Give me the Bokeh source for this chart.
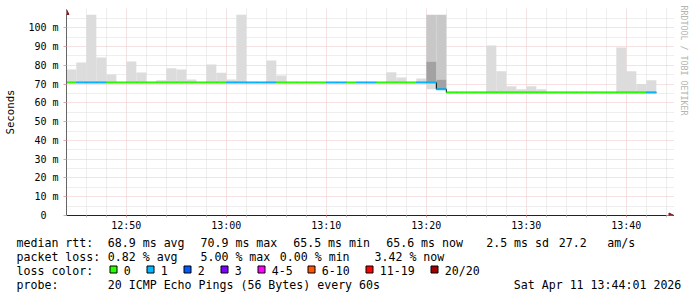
import math
from bokeh.plotting import figure
from bokeh.layouts import column
from bokeh.models import FixedTicker, Arrow, NormalHead, ColumnDataSource, Range1d, Title
from bokeh.core.properties import value
from bokeh.embed import file_html
from bokeh.resources import INLINE

# ---------------- data ----------------
# one bin per minute, start minute counted from 12:00 (12:44 ... 13:42)
minutes = list(range(44, 103))

median_ms = [70.9, 70.9, 70.9, 70.9, 70.9, 70.9, 70.9, 70.9, 70.9, 70.9,
             70.9, 70.9, 70.9, 70.9, 70.9, 70.9, 70.9, 70.9, 70.9, 70.9,
             70.9, 70.9, 70.9, 70.9, 70.9, 70.9, 70.9, 70.9, 70.9, 70.9,
             70.9, 70.9, 70.9, 70.9, 70.9, 70.9, 70.9, 67.3, 65.6, 65.6,
             65.6, 65.6, 65.6, 65.6, 65.6, 65.6, 65.6, 65.6, 65.6, 65.6,
             65.6, 65.6, 65.6, 65.6, 65.6, 65.6, 65.6, 65.6, 65.6]

lost_pings = [0, 1, 1, 1, 0, 0, 0, 0, 0, 0,
              0, 0, 0, 0, 0, 0, 1, 1, 1, 1,
              1, 0, 0, 0, 0, 0, 1, 1, 0, 1,
              1, 0, 0, 0, 0, 1, 1, 1, 0, 0,
              0, 0, 0, 0, 0, 0, 0, 0, 0, 0,
              0, 0, 0, 0, 0, 0, 0, 0, 1]

N = None
smoke_lo = [70.9, 70.9, 70.9, 70.9, 70.9, N, 70.9, 70.9, N, 70.9,
            70.9, 70.9, 70.9, N, 70.9, 70.9, 70.9, 70.9, N, N,
            70.9, 70.9, N, N, N, N, N, N, N, N,
            N, N, 70.9, 70.9, N, 70.9, 67.3, N, N, N,
            N, N, 65.6, 65.6, 65.6, 65.6, 65.6, 65.6, N, N,
            N, N, N, N, N, 65.6, 65.6, 65.6, 65.6]
smoke_hi = [77.8, 81.5, 107.0, 84.2, 75.1, N, 82.1, 76.2, N, 72.1,
            78.4, 77.8, 72.5, N, 80.4, 76.1, 72.5, 107.0, N, N,
            82.6, 74.6, N, N, N, N, N, N, N, N,
            N, N, 76.3, 73.5, N, 73.0, 70.9, N, N, N,
            N, N, 90.6, 76.8, 68.9, 67.3, 68.9, 67.3, N, N,
            N, N, N, N, N, 89.5, 76.8, 70.1, 72.0]

heavy_minutes = [80, 81]
heavy_inner_lo = [70.9, 67.3]
heavy_inner_hi = [82.1, 72.5]
heavy_outer_hi = [107.0, 107.0]

x_ticks = [50, 60, 70, 80, 90, 100]
x_tick_labels = ["12:50", "13:00", "13:10", "13:20", "13:30", "13:40"]
x_minor = [46, 48, 52, 54, 56, 58, 62, 64, 66, 68, 72, 74, 76, 78,
           82, 84, 86, 88, 92, 94, 96, 98, 102, 104]
y_ticks = [0, 10, 20, 30, 40, 50, 60, 70, 80, 90, 100]
y_tick_labels = ["0\u00a0\u00a0", "10 m", "20 m", "30 m", "40 m", "50 m",
                 "60 m", "70 m", "80 m", "90 m", "100 m"]
y_minor = [5, 15, 25, 35, 45, 55, 65, 75, 85, 95, 105]

loss_names = ["0", "1", "2", "3", "4-5", "6-10", "11-19", "20/20"]
loss_colors = ["#26ff00", "#00b8ff", "#0059ff", "#7e00ff", "#ff00ff",
               "#ff5500", "#ff0000", "#a10000"]

stats_line1 = ["median rtt:", "68.9 ms avg", "70.9 ms max", "65.5 ms min",
               "65.6 ms now", "2.5 ms sd", "27.2", "am/s"]
stats_line2 = ["packet loss:", "0.82 % avg", "5.00 % max", "0.00 % min", "3.42 % now"]
stats_line3 = ["loss color:"]
stats_line4 = ["probe:", "20 ICMP Echo Pings (56 Bytes) every 60s",
               "Sat Apr 11 13:44:01 2026"]
watermark = "RRDTOOL / TOBI OETIKER"

# ---------------- layout ----------------
W = 697
TOP_H = 237
FL, FR, FT, FB = 66, 674, 8, 215          # chart frame edges (px)
PX_PER_MIN = 10.0
PX_PER_MS = 201 / 107.1
X_START = 44 + 1 / 60                      # 12:44:01
X_END = 104 + 1 / 60                       # 13:44:01
Y_TOP = 107.1
FONT = "DejaVu Sans Mono"
MAJOR_GRID = "#ecc4c4"
MINOR_GRID = "#dcdcdc"
TEXT_SHIFT = 3.0                           # compensates text box baseline offset

p = figure(width=W, height=TOP_H,
           x_range=Range1d(X_START, X_START + (FR - FL) / PX_PER_MIN),
           y_range=Range1d(0, (FB - FT) / PX_PER_MS),
           output_backend="svg", toolbar_location=None,
           min_border_left=FL, min_border_right=W - FR,
           min_border_top=FT, min_border_bottom=TOP_H - FB)
p.frame_align = False
p.outline_line_color = None
p.background_fill_color = "white"
p.border_fill_color = "white"

xt = FixedTicker(ticks=x_ticks, minor_ticks=x_minor)
yt = FixedTicker(ticks=y_ticks, minor_ticks=y_minor)
p.xaxis.ticker = xt
p.yaxis.ticker = yt
p.xgrid.ticker = xt
p.ygrid.ticker = yt
for g in (p.xgrid, p.ygrid):
    g.grid_line_color = MAJOR_GRID
    g.grid_line_dash = "1 1"
    g.minor_grid_line_color = MINOR_GRID
    g.minor_grid_line_dash = "1 1"

p.xaxis.bounds = (X_START, X_END)
p.yaxis.bounds = (0, Y_TOP)
p.xaxis.major_label_overrides = dict(zip(x_ticks, x_tick_labels))
p.yaxis.major_label_overrides = dict(zip(y_ticks, y_tick_labels))
for ax in (p.xaxis, p.yaxis):
    ax.major_label_text_font = FONT
    ax.major_label_text_font_size = "10px"
    ax.major_label_text_color = "#000000"
p.xaxis.major_tick_line_color = "#d89a9a"
p.xaxis.major_tick_out = 2
p.xaxis.major_tick_in = 0
p.xaxis.minor_tick_line_color = "#c4c4c4"
p.xaxis.minor_tick_out = 2
p.xaxis.minor_tick_in = 0
p.xaxis.major_label_standoff = 2
p.xaxis.axis_line_color = "#222222"
p.yaxis.minor_tick_line_color = None
p.yaxis.minor_tick_out = 0
p.yaxis.major_tick_out = 3
p.yaxis.major_tick_in = 0
p.yaxis.major_tick_line_color = "#dfa9a9"
p.yaxis.major_label_standoff = 5
p.yaxis.axis_line_color = "#666666"
p.yaxis.axis_label = "Seconds"
p.yaxis.axis_label_text_font = FONT
p.yaxis.axis_label_text_font_size = "10.7px"
p.yaxis.axis_label_text_font_style = "normal"
p.yaxis.axis_label_text_color = "#000000"
p.yaxis.axis_label_standoff = 8

# smoke (light)
sl = [(m, lo, hi) for m, lo, hi in zip(minutes, smoke_lo, smoke_hi) if hi is not None]
p.quad(left=[s[0] for s in sl], right=[s[0] + 1 for s in sl],
       bottom=[s[1] for s in sl], top=[s[2] for s in sl],
       fill_color="#dcdcdc", line_color=None)
# heavy-loss smoke
p.quad(left=heavy_minutes, right=[m + 1 for m in heavy_minutes],
       bottom=heavy_inner_hi, top=heavy_outer_hi,
       fill_color="#c8c8c8", line_color=None)
p.quad(left=heavy_minutes, right=[m + 1 for m in heavy_minutes],
       bottom=heavy_inner_lo, top=heavy_inner_hi,
       fill_color="#a2a2a2", line_color=None)

# median: black connecting step, coloured by loss
p.step(x=minutes + [minutes[-1] + 1], y=median_ms + [median_ms[-1]],
       mode="after", line_color="#000000", line_width=1)
seg = ColumnDataSource(dict(x0=minutes, x1=[m + 1 for m in minutes],
                            y=median_ms,
                            c=[loss_colors[l] for l in lost_pings]))
p.segment(x0="x0", x1="x1", y0="y", y1="y", line_color="c", line_width=2,
          source=seg)

# arrows at axis ends
p.add_layout(Arrow(x_start=X_START, y_start=Y_TOP, x_end=X_START,
                   y_end=(FB - 9) / PX_PER_MS,
                   line_color="#666666", line_width=1,
                   end=NormalHead(size=5, fill_color="#8b1a1a", line_color="#8b1a1a")))
p.add_layout(Arrow(x_start=X_END, y_start=0,
                   x_end=X_START + (673.5 - FL) / PX_PER_MIN, y_end=0,
                   line_color="#222222", line_width=1,
                   end=NormalHead(size=5, fill_color="#8b1a1a", line_color="#8b1a1a")))

# watermark on the right
p.add_layout(Title(text=watermark, align="left", text_font=FONT,
                   text_font_size="8.3px", text_font_style="normal",
                   text_color="#b4b4b4", standoff=9, offset=-3), "right")

# ---------------- legend block (pixel coordinates) ----------------
p2 = figure(width=W, height=297 - TOP_H,
            x_range=Range1d(0, W), y_range=Range1d(297, TOP_H),
            output_backend="svg", toolbar_location=None,
            x_axis_location=None, y_axis_location=None,
            min_border_left=0, min_border_right=0, min_border_top=0, min_border_bottom=0)
p2.frame_align = False
p2.outline_line_color = None
p2.grid.visible = False
p2.background_fill_color = "white"
p2.border_fill_color = "white"

tx, ty, tt = [], [], []
for xs, base, texts in (([16, 107.3, 200, 292.7, 385.7, 485.7, 558.3, 606.7], 245.3, stats_line1),
                        ([16, 107.3, 200, 279.3, 374.0], 259.3, stats_line2),
                        ([16], 273.3, stats_line3),
                        ([16, 107.3, 513.3], 287.3, stats_line4)):
    for cx, t in zip(xs, texts):
        tx.append(cx)
        ty.append(base - TEXT_SHIFT)
        tt.append(t)
box_x = [109, 146, 183, 220, 257, 307, 365, 430]
for bx, name in zip(box_x, loss_names):
    tx.append(bx + 14.3)
    ty.append(273.3 - TEXT_SHIFT)
    tt.append(name)

p2.text(x=tx, y=ty, text=tt, text_font=value(FONT), text_font_size=value("11.6px"),
        text_color="#000000", text_align="left", text_baseline="alphabetic")
p2.quad(left=[b + 0.5 for b in box_x], right=[b + 7.5 for b in box_x],
        top=[265.5] * len(box_x), bottom=[272.5] * len(box_x),
        fill_color=loss_colors, line_color="#000000", line_width=1)

layout = column(p, p2, spacing=0)
open("out.html", "w").write(file_html(layout, INLINE))
